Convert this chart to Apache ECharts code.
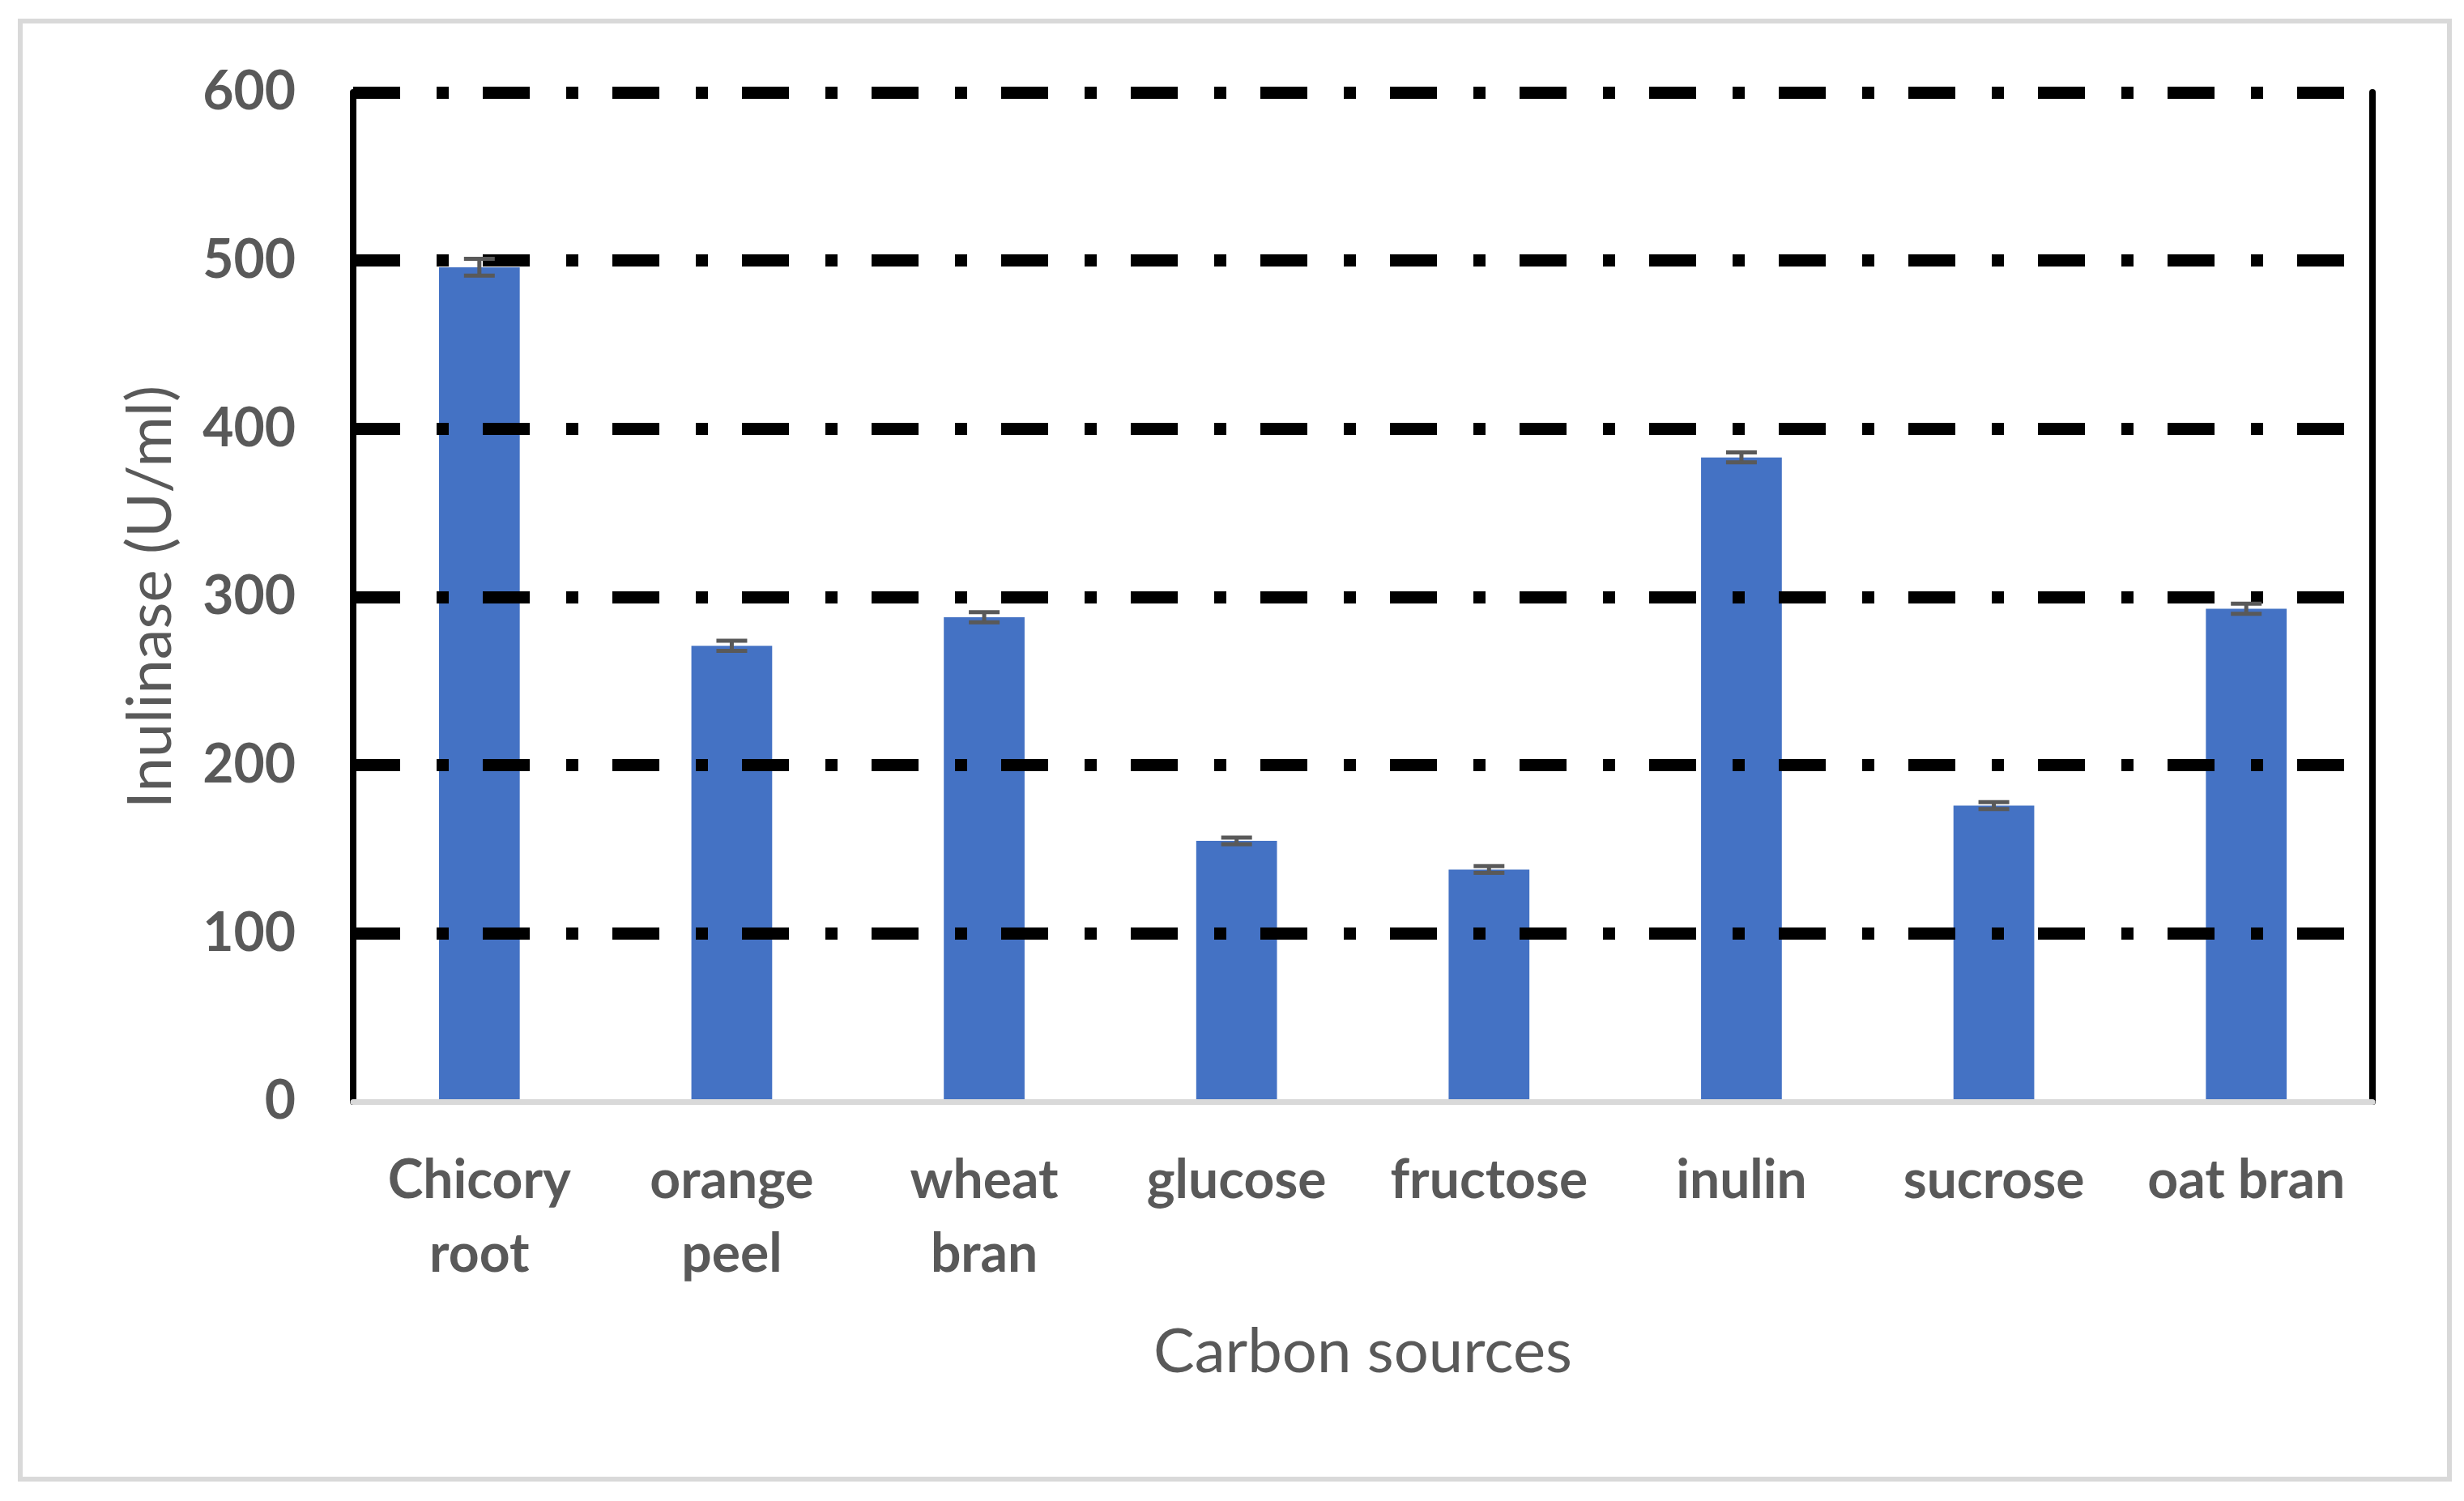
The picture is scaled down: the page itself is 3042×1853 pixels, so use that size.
<!DOCTYPE html>
<html>
<head>
<meta charset="utf-8">
<title>Inulinase by carbon source</title>
<script src="https://cdn.jsdelivr.net/npm/echarts@6/dist/echarts.min.js"></script>
<style>
  html, body { margin: 0; padding: 0; background: #ffffff; }
  #chart { width: 3042px; height: 1853px; }
</style>
</head>
<body>
<div id="chart"></div>
<script>
// data
const categories = ["Chicory\nroot", "orange\npeel", "wheat\nbran", "glucose", "fructose", "inulin", "sucrose", "oat bran"];
const inulinase = [496, 271, 288, 155, 138, 383, 176, 293];
const errors = [5, 3, 3, 2, 2, 3, 2, 3];
const yTicks = [0, 100, 200, 300, 400, 500, 600];

const FONT = "Lato";
const TEXT_GREY = "#595959";

const chart = echarts.init(document.getElementById("chart"), null, { renderer: "canvas" });

// error bars as [index, low, high]
const errData = inulinase.map(function (v, i) {
    return [i, v - errors[i], v + errors[i]];
});

function renderErrorBar(params, api)
{
    const i = api.value(0);
    const lo = api.coord([i, api.value(1)]);
    const hi = api.coord([i, api.value(2)]);
    const half = 19;
    const style = { stroke: "#595959", lineWidth: 5 };
    return {
        type: "group",
        children: [
            { type: "line", shape: { x1: hi[0], y1: hi[1], x2: lo[0], y2: lo[1] }, style: style },
            { type: "line", shape: { x1: hi[0] - half, y1: hi[1], x2: hi[0] + half, y2: hi[1] }, style: style },
            { type: "line", shape: { x1: lo[0] - half, y1: lo[1], x2: lo[0] + half, y2: lo[1] }, style: style }
        ]
    };
}

const option = {
    backgroundColor: "#ffffff",
    animation: false,
    grid: { left: 436, top: 114, right: 113, bottom: 493, containLabel: false },
    graphic: [{
        type: "rect",
        left: 22,
        top: 23,
        shape: { width: 2999, height: 1800 },
        style: { fill: "none", stroke: "#d9d9d9", lineWidth: 6 },
        silent: true
    }],
    xAxis: [
        {
            type: "category",
            data: categories,
            axisTick: { show: false },
            axisLine: { show: true, lineStyle: { color: "#d9d9d9", width: 7 } },
            axisLabel: {
                interval: 0,
                margin: 52,
                color: TEXT_GREY,
                fontFamily: FONT,
                fontWeight: "bold",
                fontSize: 66,
                lineHeight: 91
            },
            name: "Carbon sources",
            nameLocation: "middle",
            nameGap: 271,
            nameTextStyle: { color: TEXT_GREY, fontFamily: FONT, fontSize: 76 },
            z: 3
        },
        {
            type: "category",
            position: "top",
            data: categories,
            axisTick: { show: false },
            axisLabel: { show: false },
            axisLine: { show: true, lineStyle: { color: "#000000", width: 7 } }
        }
    ],
    yAxis: [
        {
            type: "value",
            min: yTicks[0],
            max: yTicks[yTicks.length - 1],
            interval: 100,
            axisTick: { show: false },
            axisLine: { show: true, lineStyle: { color: "#000000", width: 8 } },
            axisLabel: {
                margin: 71,
                color: TEXT_GREY,
                fontFamily: FONT,
                fontWeight: "bold",
                fontSize: 66
            },
            splitLine: {
                show: true,
                showMinLine: false,
                lineStyle: { color: "#000000", width: 15, type: [58, 45, 15, 42], cap: "butt" }
            },
            name: "Inulinase (U/ml)",
            nameLocation: "middle",
            nameRotate: 90,
            nameGap: 212,
            nameTextStyle: { color: TEXT_GREY, fontFamily: FONT, fontSize: 76 },
            z: 3
        },
        {
            type: "value",
            position: "right",
            min: yTicks[0],
            max: yTicks[yTicks.length - 1],
            interval: 100,
            axisTick: { show: false },
            axisLabel: { show: false },
            splitLine: { show: false },
            axisLine: { show: true, lineStyle: { color: "#000000", width: 8 } }
        }
    ],
    series: [
        {
            type: "bar",
            data: inulinase,
            barWidth: "32%",
            itemStyle: { color: "#4472c4" },
            z: 2
        },
        {
            type: "custom",
            data: errData,
            renderItem: renderErrorBar,
            encode: { x: 0, y: [1, 2] },
            z: 5
        }
    ]
};

chart.setOption(option);
</script>
</body>
</html>
